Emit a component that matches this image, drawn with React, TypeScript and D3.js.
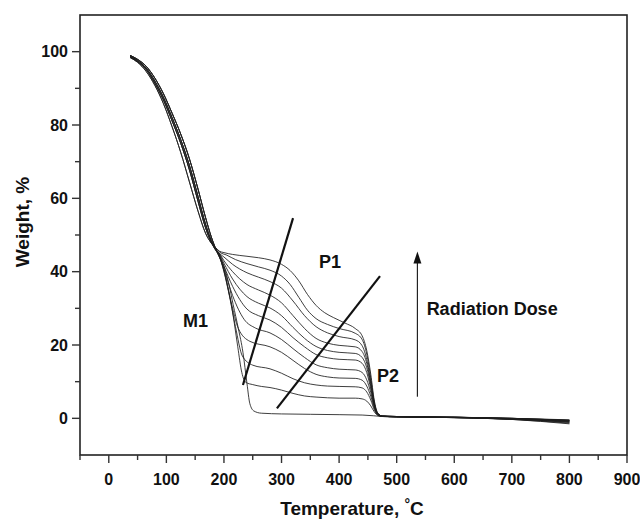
import React from 'react';
import * as d3 from 'd3';

type Pt = [number, number];

// Axis ticks
const xTicks = [0, 100, 200, 300, 400, 500, 600, 700, 800, 900];
const xMinor = [-50, 50, 150, 250, 350, 450, 550, 650, 750, 850];
const yTicks = [0, 20, 40, 60, 80, 100];
const yMinor = [10, 30, 50, 70, 90];

// First decomposition stage (M1), shared bundle variants
const stage1A: Pt[] = [[37, 98.8], [50, 97.6], [65, 95.5], [80, 92], [95, 87.5], [110, 82], [125, 76], [140, 69], [155, 60.5], [168, 53], [178, 48.5], [186, 46]];
const stage1B: Pt[] = [[37, 99], [50, 97.9], [65, 96], [80, 92.8], [95, 88.5], [110, 83.2], [125, 77.5], [140, 70.8], [155, 62.5], [168, 54.8], [178, 49.5], [186, 46.2]];
const stage1C: Pt[] = [[37, 98.6], [50, 97.3], [65, 95.1], [80, 91.4], [95, 86.8], [110, 81.1], [125, 75], [140, 67.8], [155, 59.2], [168, 52], [178, 48], [186, 45.8]];
const stage1Early: Pt[] = [[37, 98.4], [50, 97.1], [65, 94.6], [80, 90.8], [95, 85.8], [110, 79.5], [125, 72.5], [140, 64.5], [155, 56.5], [168, 50.5], [178, 47.8], [186, 46.5]];

// Later stages (P1, P2) per radiation dose, lowest dose first
const dose0: Pt[] = [[192, 44], [200, 41.5], [208, 37], [216, 31], [225, 24.5], [233, 18], [240, 9.5], [245, 4], [252, 2], [265, 1.4], [300, 1.2], [350, 1.1], [400, 1], [440, 0.9], [460, 0.7], [475, 0.5], [500, 0.4], [600, 0.3], [700, 0], [800, -0.4]];
const dose1: Pt[] = [[192, 44], [200, 40.5], [208, 35], [216, 28], [224, 19.5], [231, 12.5], [238, 9.8], [250, 9.2], [265, 8.7], [280, 8.4], [300, 7.7], [320, 6.8], [340, 6.1], [360, 5.8], [380, 5.6], [400, 5.5], [428, 5.5], [440, 5.3], [448, 4.7], [455, 3.4], [461, 1.8], [467, 0.8], [475, 0.5], [500, 0.4], [600, 0.2], [700, -0.2], [800, -1]];
const dose2: Pt[] = [[192, 44.2], [200, 40], [210, 33], [220, 25], [232, 17], [250, 14.5], [280, 13.5], [300, 12.3], [320, 10.8], [340, 9.7], [360, 9.1], [380, 8.8], [400, 8.7], [428, 8.6], [440, 8.3], [448, 7.2], [455, 5], [461, 2.4], [467, 0.9], [475, 0.5], [500, 0.4], [600, 0.3], [700, 0], [800, -0.6]];
const dose3: Pt[] = [[192, 44.3], [200, 40.2], [212, 32], [225, 24.5], [245, 21], [280, 19.5], [300, 18], [320, 15.8], [340, 13.6], [360, 12], [380, 11.3], [400, 11], [428, 10.9], [440, 10.4], [448, 8.8], [455, 6], [461, 2.8], [467, 1], [475, 0.6], [500, 0.4], [600, 0.2], [700, -0.3], [800, -1.5]];
const dose4: Pt[] = [[192, 44.5], [200, 40.8], [215, 33.5], [235, 27], [255, 24.6], [280, 23.3], [300, 21.5], [320, 19], [340, 16.6], [360, 14.6], [380, 13.8], [400, 13.4], [428, 13.2], [440, 12.5], [448, 10.5], [455, 7], [461, 3.2], [467, 1.1], [475, 0.6], [500, 0.5], [600, 0.3], [700, -0.1], [800, -0.8]];
const dose5: Pt[] = [[192, 44.6], [200, 41.5], [215, 36], [240, 29.8], [260, 28], [280, 26.8], [300, 24.8], [320, 22], [340, 19.5], [360, 17.4], [380, 16.5], [400, 16.1], [428, 15.9], [440, 15], [448, 12.5], [455, 8], [461, 3.5], [467, 1.2], [475, 0.6], [500, 0.4], [600, 0.2], [700, -0.3], [800, -1.3]];
const dose6: Pt[] = [[192, 44.8], [200, 42.3], [215, 38], [240, 33.2], [260, 31.4], [280, 30.1], [300, 28], [320, 24.8], [340, 21.8], [360, 19.6], [380, 18.5], [400, 18], [428, 17.7], [440, 16.6], [448, 13.8], [455, 8.8], [461, 3.8], [467, 1.2], [475, 0.6], [500, 0.5], [600, 0.3], [700, 0], [800, -0.6]];
const dose7: Pt[] = [[192, 45], [200, 43], [215, 40], [240, 36.5], [260, 35], [280, 33.6], [300, 31.5], [320, 28], [340, 24.5], [360, 21.8], [380, 20.5], [400, 19.9], [428, 19.5], [440, 18.2], [448, 15], [455, 9.5], [461, 4], [467, 1.3], [475, 0.6], [500, 0.4], [600, 0.2], [700, -0.2], [800, -1.1]];
const dose8: Pt[] = [[192, 45], [200, 44], [215, 42], [240, 39.7], [260, 38.5], [280, 37.3], [300, 35.5], [320, 32], [340, 28], [360, 25], [380, 23.3], [400, 22.3], [428, 21.4], [440, 19.8], [448, 16], [455, 10], [461, 4.2], [467, 1.3], [475, 0.6], [500, 0.5], [600, 0.3], [700, -0.1], [800, -0.7]];
const dose9: Pt[] = [[192, 45.4], [205, 44.5], [220, 43.3], [240, 42.2], [260, 41.3], [280, 40.4], [300, 38.8], [315, 36.5], [330, 33], [345, 29.5], [360, 27.2], [380, 25.6], [400, 24.5], [428, 23.2], [440, 21.5], [448, 17.5], [455, 11], [461, 4.5], [467, 1.4], [475, 0.6], [500, 0.5], [600, 0.2], [700, -0.2], [800, -0.9]];
const dose10: Pt[] = [[192, 45.6], [200, 45.2], [215, 44.7], [240, 44.2], [260, 43.8], [280, 43.2], [300, 42], [315, 40.3], [330, 37.5], [345, 33.8], [360, 30.8], [375, 28.8], [390, 27.5], [410, 26], [428, 24.5], [440, 22.5], [448, 18.5], [455, 12], [461, 5], [467, 1.5], [475, 0.6], [500, 0.5], [600, 0.3], [700, 0], [800, -0.5]];

// Annotation guide lines (data coords)
const lineP1: Pt[] = [[233, 9.1], [320, 54.6]];
const lineP2: Pt[] = [[292, 2.7], [471, 38.8]];
const arrowT = 536;
const arrowFrom = 5.9;
const arrowTo = 45.5;

const FONT = '"Liberation Sans", Arial, Helvetica, sans-serif';

export default function App() {
  const width = 640;
  const height = 522;
  const L = 80, R = 627, T = 15, B = 455;
  const x = d3.scaleLinear().domain([-50, 900]).range([L, R]);
  const y = d3.scaleLinear().domain([-10, 110]).range([B, T]);
  const line = d3.line<Pt>().x(d => x(d[0])).y(d => y(d[1])).curve(d3.curveMonotoneX);
  const straight = d3.line<Pt>().x(d => x(d[0])).y(d => y(d[1]));

  const curves: Pt[][] = [
    [...stage1C, ...dose0],
    [...stage1B, ...dose1],
    [...stage1A, ...dose2],
    [...stage1C, ...dose3],
    [...stage1B, ...dose4],
    [...stage1A, ...dose5],
    [...stage1C, ...dose6],
    [...stage1B, ...dose7],
    [...stage1A, ...dose8],
    [...stage1Early, ...dose9],
    [...stage1Early, ...dose10],
  ];

  return (
    <svg width={width} height={height} style={{ position: 'absolute', left: 0, top: 0, background: '#fff' }} fontFamily={FONT}>
      <defs>
        <marker id="ah" markerUnits="userSpaceOnUse" markerWidth={10} markerHeight={12} refX={5} refY={11} orient="auto-start-reverse" viewBox="0 0 10 12">
          <path d="M0,12 L5,0 L10,12 Z" fill="#111" />
        </marker>
      </defs>
      <rect x={0} y={0} width={width} height={height} fill="#fff" />

      {/* curves */}
      <g fill="none" stroke="#1c1c1c" strokeWidth={0.85}>
        {curves.map((c, i) => (
          <path key={i} d={line(c) || ''} />
        ))}
      </g>

      {/* guide lines */}
      <path d={straight(lineP1) || ''} stroke="#111" strokeWidth={2.2} fill="none" />
      <path d={straight(lineP2) || ''} stroke="#111" strokeWidth={2.2} fill="none" />
      <line x1={x(arrowT)} x2={x(arrowT)} y1={y(arrowFrom)} y2={y(arrowTo) + 11} stroke="#222" strokeWidth={1.2} />
      <path d={`M${x(arrowT) - 4},${y(arrowTo) + 12} L${x(arrowT)},${y(arrowTo)} L${x(arrowT) + 4},${y(arrowTo) + 12} Z`} fill="#111" />

      {/* annotation labels */}
      <g fontWeight="bold" fontSize={18} fill="#111">
        <text x={x(129)} y={y(24.9)}>M1</text>
        <text x={x(365)} y={y(41)}>P1</text>
        <text x={x(466)} y={y(9.9)}>P2</text>
        <text x={x(552)} y={y(28.2)}>Radiation Dose</text>
      </g>

      {/* frame */}
      <rect x={L} y={T} width={R - L} height={B - T} fill="none" stroke="#222" strokeWidth={1.6} />

      {/* x axis ticks */}
      <g stroke="#333" strokeWidth={1.4}>
        {xTicks.map(t => <line key={'xt' + t} x1={x(t)} x2={x(t)} y1={B} y2={B + 8} />)}
        {xMinor.map(t => <line key={'xm' + t} x1={x(t)} x2={x(t)} y1={B} y2={B + 5} />)}
        {yTicks.map(t => <line key={'yt' + t} x1={L - 8} x2={L} y1={y(t)} y2={y(t)} />)}
        {yMinor.map(t => <line key={'ym' + t} x1={L - 5} x2={L} y1={y(t)} y2={y(t)} />)}
      </g>
      <g fontWeight="bold" fontSize={16} fill="#111">
        {xTicks.map(t => (
          <text key={'xl' + t} x={x(t)} y={485} textAnchor="middle">{t}</text>
        ))}
        {yTicks.map(t => (
          <text key={'yl' + t} x={L - 12} y={y(t)} dy="0.36em" textAnchor="end">{t}</text>
        ))}
      </g>

      {/* axis titles */}
      <text x={352} y={515} textAnchor="middle" fontWeight="bold" fontSize={19} fill="#111">
        Temperature, <tspan fontSize={14} dy={-6}>°</tspan><tspan dy={6}>C</tspan>
      </text>
      <text transform="translate(29,222) rotate(-90)" textAnchor="middle" fontWeight="bold" fontSize={19} fill="#111">
        Weight, %
      </text>
    </svg>
  );
}
